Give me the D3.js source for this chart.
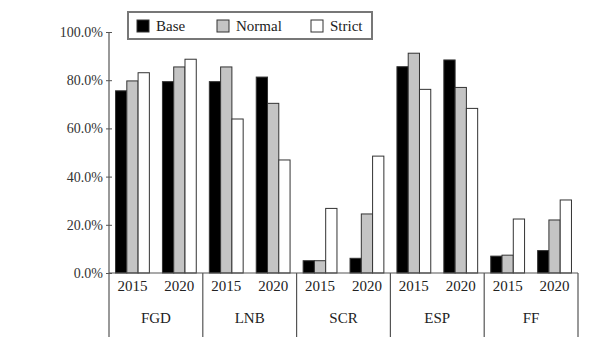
<!DOCTYPE html>
<html>
<head>
<meta charset="utf-8">
<script src="https://cdn.jsdelivr.net/npm/d3@7"></script>
<style>
    body { margin: 0; background: #fff; }
    text { font-family: "Liberation Serif", "DejaVu Serif", serif; fill: #222; }
</style>
</head>
<body>
<div class="chart"></div>
<script>

// Chart data
var categories = ["FGD", "LNB", "SCR", "ESP", "FF"];
var years = ["2015", "2020"];
var seriesNames = ["Base", "Normal", "Strict"];

// values in %, order: [category][year]
var baseValues   = [[75.6, 79.4], [79.4, 81.3], [5.1, 6.1], [85.6, 88.4], [7.0, 9.3]];
var normalValues = [[79.7, 85.5], [85.5, 70.4], [5.1, 24.5], [91.2, 77.0], [7.4, 22.0]];
var strictValues = [[83.1, 88.7], [63.9, 46.9], [26.8, 48.5], [76.2, 68.3], [22.4, 30.3]];

var yTicks = [0, 20, 40, 60, 80, 100];

var width = 589, height = 337;
var margin = {top: 32, right: 11, bottom: 64, left: 109};

var colors = {Base: "#000", Normal: "#c4c4c4", Strict: "#fff"};

var svg = d3.select(".chart")
    .append("svg")
        .attr("width", width)
        .attr("height", height);

// Scales
var y = d3.scaleLinear()
    .domain([0, 100])
    .range([height - margin.bottom, margin.top]);

var x0 = d3.scaleBand()
    .domain(categories)
    .range([margin.left, width - margin.right])
    .padding(0);

var x1 = d3.scaleBand()
    .domain(years)
    .range([0, x0.bandwidth()])
    .padding(0);

var x2 = d3.scaleBand()
    .domain(seriesNames)
    .range([0, x1.bandwidth()])
    .paddingInner(0)
    .paddingOuter(0.58);

// Build flat list of bars
var valueTable = {Base: baseValues, Normal: normalValues, Strict: strictValues};
var bars = [];
categories.forEach(function(c, i) {
    years.forEach(function(yr, j) {
        seriesNames.forEach(function(s) {
            bars.push({cat: c, year: yr, series: s, value: valueTable[s][i][j]});
        });
    });
});

// Bars
svg.append("g")
    .selectAll("rect")
    .data(bars)
    .enter()
    .append("rect")
    .attr("x", function(d) { return x0(d.cat) + x1(d.year) + x2(d.series); })
    .attr("y", function(d) { return y(d.value); })
    .attr("width", x2.bandwidth())
    .attr("height", function(d) { return y(0) - y(d.value); })
    .style("fill", function(d) { return colors[d.series]; })
    .style("stroke", "#333")
    .style("stroke-width", 1);

// Y axis
var yAxis = d3.axisLeft(y)
    .tickValues(yTicks)
    .tickSize(4)
    .tickFormat(function(d) { return d3.format(".1f")(d) + "%"; });

var yG = svg.append("g")
    .attr("transform", "translate(" + margin.left + ",0)")
    .call(yAxis);

yG.select(".domain").remove();
yG.selectAll(".tick line").attr("x2", 3).attr("x1", -3).style("stroke", "#555");
yG.selectAll(".tick text")
    .attr("x", -6)
    .style("font-family", "Liberation Serif, serif")
    .style("font-size", "14px")
    .style("fill", "#333");

// Y axis line running down to the bottom edge
svg.append("line")
    .attr("x1", margin.left).attr("x2", margin.left)
    .attr("y1", margin.top).attr("y2", height)
    .style("stroke", "#555")
    .style("stroke-width", 1.2);

// Baseline
svg.append("line")
    .attr("x1", margin.left).attr("x2", width - margin.right)
    .attr("y1", y(0)).attr("y2", y(0))
    .style("stroke", "#555")
    .style("stroke-width", 1.2);

// Category dividers
svg.append("g")
    .selectAll("line")
    .data(categories)
    .enter()
    .append("line")
    .attr("x1", function(d) { return x0(d) + x0.bandwidth(); })
    .attr("x2", function(d) { return x0(d) + x0.bandwidth(); })
    .attr("y1", y(0))
    .attr("y2", height)
    .style("stroke", "#555")
    .style("stroke-width", 1.2);

// Year labels
var yearLabels = [];
categories.forEach(function(c) {
    years.forEach(function(yr) { yearLabels.push({cat: c, year: yr}); });
});

svg.append("g")
    .selectAll("text")
    .data(yearLabels)
    .enter()
    .append("text")
    .attr("x", function(d) { return x0(d.cat) + x1(d.year) + x1.bandwidth() / 2; })
    .attr("y", y(0) + 18)
    .attr("text-anchor", "middle")
    .style("font-size", "15px")
    .text(function(d) { return d.year; });

// Category labels
svg.append("g")
    .selectAll("text")
    .data(categories)
    .enter()
    .append("text")
    .attr("x", function(d) { return x0(d) + x0.bandwidth() / 2; })
    .attr("y", y(0) + 50)
    .attr("text-anchor", "middle")
    .style("font-size", "15px")
    .text(function(d) { return d; });

// Legend
var legend = svg.append("g").attr("transform", "translate(128,12)");

legend.append("rect")
    .attr("width", 244)
    .attr("height", 27)
    .style("fill", "#fff")
    .style("stroke", "#777")
    .style("stroke-width", 2);

var legendX = [9, 89, 183];

var item = legend.selectAll(".item")
    .data(seriesNames)
    .enter()
    .append("g")
    .attr("class", "item")
    .attr("transform", function(d, i) { return "translate(" + legendX[i] + ",8)"; });

item.append("rect")
    .attr("width", 12)
    .attr("height", 12)
    .style("fill", function(d) { return colors[d]; })
    .style("stroke", "#333")
    .style("stroke-width", 1);

item.append("text")
    .attr("x", 19)
    .attr("y", 11)
    .style("font-size", "15px")
    .text(function(d) { return d; });

</script>
</body>
</html>
